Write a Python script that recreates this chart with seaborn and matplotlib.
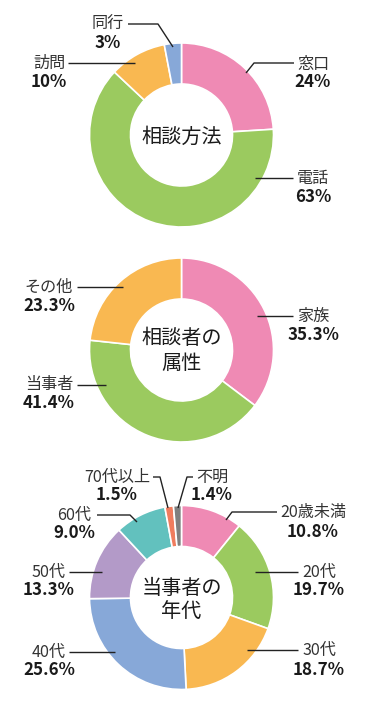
import matplotlib
matplotlib.use("Agg")
import matplotlib.pyplot as plt
import seaborn as sns

sns.set_theme(style="white")
plt.rcParams['font.family'] = ['Noto Sans CJK JP', 'DejaVu Sans']

# ---- data ----
method_labels = ["窓口", "電話", "訪問", "同行"]
method_values = [24, 63, 10, 3]
method_pct = ["24%", "63%", "10%", "3%"]

attr_labels = ["家族", "当事者", "その他"]
attr_values = [35.3, 41.4, 23.3]

age_labels = ["20歳未満", "20代", "30代", "40代", "50代", "60代", "70代以上", "不明"]
age_values = [10.8, 19.7, 18.7, 25.6, 13.3, 9.0, 1.5, 1.4]

# ---- styles ----
PINK, GREEN, ORANGE, BLUE = "#EF8AB4", "#9BCA5F", "#F9B851", "#87A8D8"
PURPLE, TEAL, RED, GRAY = "#B39AC8", "#62C1BE", "#EF7C5E", "#7F7F7F"
method_colors = [PINK, GREEN, ORANGE, BLUE]
attr_colors = [PINK, GREEN, ORANGE]
age_colors = [PINK, GREEN, ORANGE, BLUE, PURPLE, TEAL, RED, GRAY]

W, H = 368, 713
fig = plt.figure(figsize=(W / 100, H / 100), dpi=100)
ax = fig.add_axes([0, 0, 1, 1])

R_OUT, R_IN = 92, 51
NAME_FS, PCT_FS, CENTER_FS = 11.6, 12.2, 14.5
TXT = "#1a1a1a"


def Y(y):
    return H - y


def donut(values, colors, cx, cy):
    ax.pie(values, colors=colors, center=(cx, Y(cy)), radius=R_OUT,
           startangle=90, counterclock=False,
           wedgeprops=dict(width=R_OUT - R_IN, edgecolor="white", linewidth=1.2))


def label(name, pct, x, y_name, y_pct):
    ax.text(x, Y(y_name), name, ha="center", va="center", fontsize=NAME_FS, color="#333333")
    ax.text(x, Y(y_pct), pct, ha="center", va="center", fontsize=PCT_FS,
            fontweight="bold", color=TXT)


def leader(points):
    xs = [p[0] for p in points]
    ys = [Y(p[1]) for p in points]
    ax.plot(xs, ys, color="#222222", lw=1.0, solid_capstyle="butt")


# ---- chart 1 ----
donut(method_values, method_colors, 181.5, 135)
ax.text(181.5, Y(137), "相談方法", ha="center", va="center", fontsize=CENTER_FS, color=TXT)
layout1 = [(313, 64, 82), (313, 178, 197), (49, 63, 82), (108, 24, 43)]
for n, p, (x, yn, yp) in zip(method_labels, method_pct, layout1):
    label(n, p, x, yn, yp)
leader([(246, 73), (254, 63), (294, 63)])
leader([(255, 178), (293, 178)])
leader([(68, 63), (135, 63)])
leader([(128, 24), (158, 24), (173, 47)])

# ---- chart 2 ----
donut(attr_values, attr_colors, 181.5, 350)
ax.text(181.5, Y(339), "相談者の", ha="center", va="center", fontsize=CENTER_FS, color=TXT)
ax.text(181.5, Y(363), "属性", ha="center", va="center", fontsize=CENTER_FS, color=TXT)
layout2 = [(313, 316, 335), (49, 385, 403), (49, 287, 306)]
for n, v, (x, yn, yp) in zip(attr_labels, attr_values, layout2):
    label(n, f"{v:.1f}%", x, yn, yp)
leader([(257, 316), (293, 316)])
leader([(77, 385), (106, 385)])
leader([(77, 287), (123, 287)])

# ---- chart 3 ----
donut(age_values, age_colors, 181.5, 597.5)
ax.text(181.5, Y(588), "当事者の", ha="center", va="center", fontsize=CENTER_FS, color=TXT)
ax.text(181.5, Y(612), "年代", ha="center", va="center", fontsize=CENTER_FS, color=TXT)
layout3 = [(313, 512, 532), (319, 572, 590), (319, 650, 670), (49, 652, 670),
           (49, 572, 590), (74, 515, 533), (117, 477, 495), (212, 477, 495)]
for n, v, (x, yn, yp) in zip(age_labels, age_values, layout3):
    label(n, f"{v:.1f}%", x, yn, yp)
leader([(226, 520), (232, 512), (277, 512)])
leader([(255, 572), (298, 572)])
leader([(247, 650), (298, 650)])
leader([(69, 652), (115, 652)])
leader([(69, 572), (102, 572)])
leader([(97, 515), (130, 515), (137, 522)])
leader([(153, 477), (160, 477), (168, 508)])
leader([(193, 477), (187, 477), (178, 508)])

ax.set_xlim(0, W)
ax.set_ylim(0, H)
ax.set_aspect("auto")
ax.axis("off")

fig.savefig("out.png", dpi=100, facecolor="white")
